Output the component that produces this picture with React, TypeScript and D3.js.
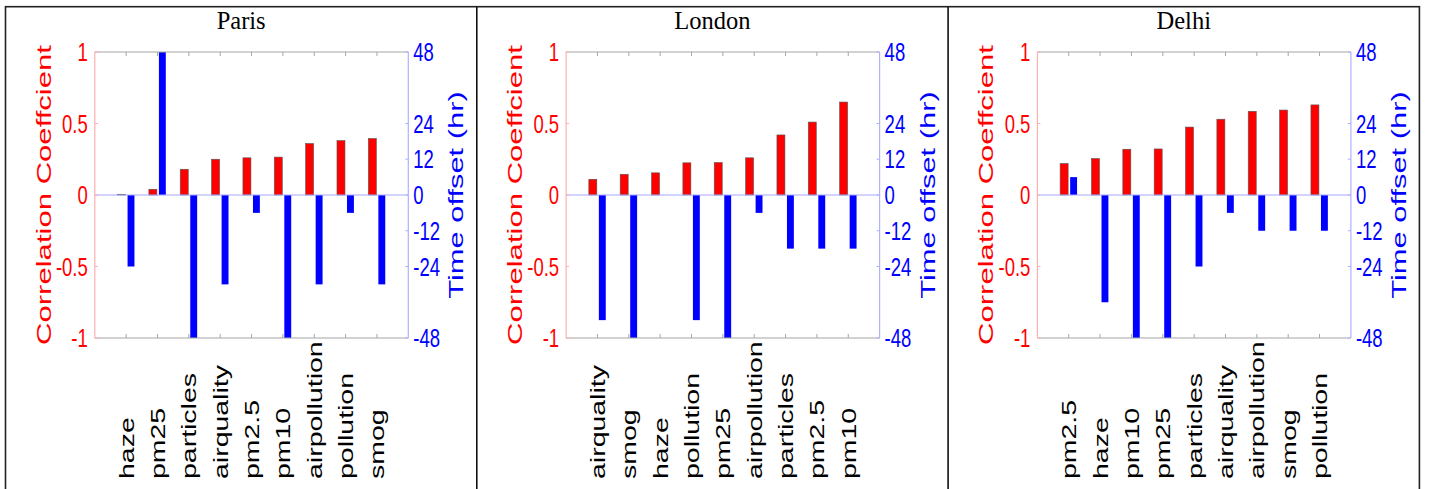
import React from "react";
import * as d3 from "d3";

// Pollution-term search trends vs. measured air quality, per city
const cities = ["Paris", "London", "Delhi"];

const parisTerms = ["haze", "pm25", "particles", "airquality", "pm2.5", "pm10", "airpollution", "pollution", "smog"];
const parisCorr = [0.005, 0.04, 0.18, 0.25, 0.26, 0.265, 0.36, 0.38, 0.395];
const parisOffset = [-24, 48, -48, -30, -6, -48, -30, -6, -30];

const londonTerms = ["airquality", "smog", "haze", "pollution", "pm25", "airpollution", "particles", "pm2.5", "pm10"];
const londonCorr = [0.11, 0.145, 0.155, 0.225, 0.227, 0.26, 0.42, 0.51, 0.65];
const londonOffset = [-42, -48, 0, -42, -48, -6, -18, -18, -18];

const delhiTerms = ["pm2.5", "haze", "pm10", "pm25", "particles", "airquality", "airpollution", "smog", "pollution"];
const delhiCorr = [0.22, 0.255, 0.32, 0.322, 0.475, 0.53, 0.585, 0.594, 0.63];
const delhiOffset = [6, -36, -48, -48, -24, -6, -12, -12, -12];

const corrTicks = [-1, -0.5, 0, 0.5, 1];
const offsetTicks = [-48, -24, -12, 0, 12, 24, 48];

const panels = [
  { city: cities[0], terms: parisTerms, corr: parisCorr, offset: parisOffset },
  { city: cities[1], terms: londonTerms, corr: londonCorr, offset: londonOffset },
  { city: cities[2], terms: delhiTerms, corr: delhiCorr, offset: delhiOffset },
];

const W = 1429;
const H = 489;
const frameLeft = 5.5;
const frameTop = 6.7;
const panelW = 471.3;
const plotDx = 89.3;
const plotW = 313.5;
const plotTop = 52;
const plotBottom = 338;

const SANS = "'Liberation Sans', Arial, Helvetica, sans-serif";
const SERIF = "'Liberation Serif', 'Times New Roman', serif";
const RED = "#ff0000";
const BLUE = "#0000ff";

function fmt(v: number) {
  return String(v);
}

function Panel({ p, idx }: { p: (typeof panels)[number]; idx: number }) {
  const panelLeft = frameLeft + idx * panelW;
  const x0 = panelLeft + plotDx;
  const x1 = x0 + plotW;
  const x = d3.scaleLinear().domain([0, p.terms.length + 1]).range([x0, x1]);
  const yL = d3.scaleLinear().domain([-1, 1]).range([plotBottom, plotTop]);
  const yR = d3.scaleLinear().domain([-48, 48]).range([plotBottom, plotTop]);
  const step = x(1) - x(0);
  const yMid = (plotTop + plotBottom) / 2;

  return (
    <g>
      {/* panel title */}
      <text
        x={panelLeft + panelW / 2}
        y={28.5}
        textAnchor="middle"
        fontFamily={SERIF}
        fontSize={24.5}
        fill="#000"
      >
        {p.city}
      </text>

      {/* bars */}
      {p.terms.map((t, i) => {
        const xc = x(i + 1);
        const c = p.corr[i];
        const o = p.offset[i];
        const rTop = Math.min(yL(c), yL(0));
        const rH = Math.abs(yL(c) - yL(0));
        const bTop = Math.min(yR(o), yR(0));
        const bH = Math.abs(yR(o) - yR(0));
        return (
          <g key={t}>
            <rect
              x={xc - 0.275 * step}
              y={rTop}
              width={0.255 * step}
              height={Math.max(rH, 0.6)}
              fill={RED}
              stroke="#555"
              strokeWidth={0.6}
            />
            {bH > 0 && (
              <rect
                x={xc + 0.045 * step}
                y={bTop}
                width={0.22 * step}
                height={bH}
                fill={BLUE}
              />
            )}
          </g>
        );
      })}

      {/* zero line */}
      <line x1={x0} x2={x1} y1={yL(0)} y2={yL(0)} stroke="#a8a8ff" strokeWidth={1.2} />

      {/* box: top and bottom gray, left red-tinted, right blue-tinted */}
      <line x1={x0} x2={x1} y1={plotTop} y2={plotTop} stroke="#a6a6a6" strokeWidth={1.2} />
      <line x1={x0} x2={x1} y1={plotBottom} y2={plotBottom} stroke="#a6a6a6" strokeWidth={1.2} />
      <line x1={x0} x2={x0} y1={plotTop} y2={plotBottom} stroke="#ffb0b0" strokeWidth={1.2} />
      <line x1={x1} x2={x1} y1={plotTop} y2={plotBottom} stroke="#b0b0ff" strokeWidth={1.2} />

      {/* category ticks on top and bottom */}
      {p.terms.map((t, i) => (
        <g key={"tk" + t}>
          <line x1={x(i + 1)} x2={x(i + 1)} y1={plotTop} y2={plotTop + 4} stroke="#a6a6a6" strokeWidth={1} />
          <line x1={x(i + 1)} x2={x(i + 1)} y1={plotBottom} y2={plotBottom - 4} stroke="#a6a6a6" strokeWidth={1} />
        </g>
      ))}

      {/* left axis ticks and labels */}
      {corrTicks.map((v) => (
        <g key={"l" + v}>
          <line x1={x0} x2={x0 + 3} y1={yL(v)} y2={yL(v)} stroke="#ffb0b0" strokeWidth={1} />
          <text
            transform={`translate(${x0 - 7},${yL(v)}) scale(1,1.38)`}
            dy="0.36em"
            textAnchor="end"
            fontFamily={SANS}
            fontSize={18.5}
            fill={RED}
          >
            {fmt(v)}
          </text>
        </g>
      ))}

      {/* right axis ticks and labels */}
      {offsetTicks.map((v) => (
        <g key={"r" + v}>
          <line x1={x1} x2={x1 - 3} y1={yR(v)} y2={yR(v)} stroke="#b0b0ff" strokeWidth={1} />
          <text
            transform={`translate(${x1 + 5},${yR(v)}) scale(1,1.38)`}
            dy="0.36em"
            textAnchor="start"
            fontFamily={SANS}
            fontSize={18.5}
            fill={BLUE}
          >
            {fmt(v)}
          </text>
        </g>
      ))}

      {/* axis titles */}
      <text
        transform={`translate(${x0 - 44},${yMid}) rotate(-90) scale(1.48,1)`}
        textAnchor="middle"
        fontFamily={SANS}
        fontSize={21}
        fill={RED}
      >
        Correlation Coeffcient
      </text>
      <text
        transform={`translate(${x1 + 55},${yMid}) rotate(-90) scale(1.47,1)`}
        textAnchor="middle"
        fontFamily={SANS}
        fontSize={21}
        fill={BLUE}
      >
        Time offset (hr)
      </text>

      {/* rotated category labels */}
      {p.terms.map((t, i) => (
        <text
          key={"c" + t}
          transform={`translate(${x(i + 1) + 7.5},${479}) rotate(-90) scale(1.46,1)`}
          textAnchor="start"
          fontFamily={SANS}
          fontSize={19.5}
          fill="#000"
        >
          {t}
        </text>
      ))}
    </g>
  );
}

export default function App() {
  return (
    <svg
      width={W}
      height={H}
      viewBox={`0 0 ${W} ${H}`}
      style={{ position: "absolute", left: 0, top: 0, display: "block", background: "#fff" }}
    >
      <rect x={0} y={0} width={W} height={H} fill="#fff" />
      {panels.map((p, i) => (
        <Panel key={p.city} p={p} idx={i} />
      ))}
      {/* outer frame and panel dividers */}
      <rect
        x={frameLeft}
        y={frameTop}
        width={panelW * 3}
        height={H + 20}
        fill="none"
        stroke="#222"
        strokeWidth={1.6}
      />
      {[1, 2].map((k) => (
        <line
          key={k}
          x1={frameLeft + k * panelW}
          x2={frameLeft + k * panelW}
          y1={frameTop}
          y2={H + 10}
          stroke="#111"
          strokeWidth={1.6}
        />
      ))}
    </svg>
  );
}
